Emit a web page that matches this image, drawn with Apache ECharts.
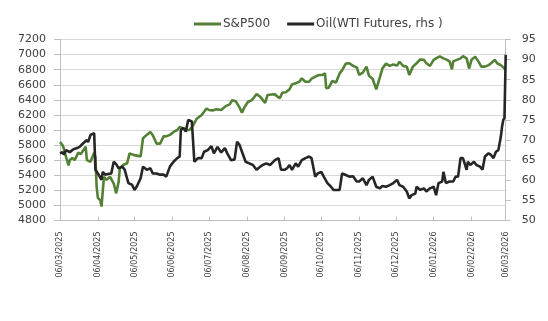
<!DOCTYPE html>
<html>
<head>
<meta charset="utf-8">
<script src="https://cdn.jsdelivr.net/npm/echarts@6/dist/echarts.min.js"></script>
<style>
html,body{margin:0;padding:0;background:#fff;}
#chart{width:548px;height:321px;}
</style>
</head>
<body>
<div id="chart"></div>
<script>
// ---------- data ----------
var xTickLabels = ['06/03/2025','06/04/2025','06/05/2025','06/06/2025','06/07/2025','06/08/2025','06/09/2025','06/10/2025','06/11/2025','06/12/2025','06/01/2026','06/02/2026','06/03/2026'];

var spDates = ['2025-03-06','2025-03-08','2025-03-09','2025-03-11','2025-03-13','2025-03-14','2025-03-16','2025-03-18','2025-03-21','2025-03-23','2025-03-27','2025-03-28','2025-03-31','2025-04-01','2025-04-03','2025-04-04','2025-04-05','2025-04-06','2025-04-08','2025-04-09','2025-04-11','2025-04-13','2025-04-16','2025-04-19','2025-04-21','2025-04-23','2025-04-24','2025-04-27','2025-04-30','2025-05-02','2025-05-05','2025-05-08','2025-05-11','2025-05-13','2025-05-16','2025-05-19','2025-05-21','2025-05-24','2025-05-27','2025-05-30','2025-06-01','2025-06-04','2025-06-07','2025-06-10','2025-06-12','2025-06-15','2025-06-18','2025-06-20','2025-06-23','2025-06-26','2025-06-30','2025-07-04','2025-07-06','2025-07-09','2025-07-12','2025-07-16','2025-07-20','2025-07-23','2025-07-25','2025-07-28','2025-07-31','2025-08-02','2025-08-04','2025-08-07','2025-08-10','2025-08-14','2025-08-17','2025-08-19','2025-08-21','2025-08-23','2025-08-26','2025-08-29','2025-08-31','2025-09-02','2025-09-04','2025-09-07','2025-09-10','2025-09-12','2025-09-15','2025-09-18','2025-09-20','2025-09-23','2025-09-26','2025-09-28','2025-10-02','2025-10-04','2025-10-07','2025-10-09','2025-10-10','2025-10-12','2025-10-15','2025-10-18','2025-10-21','2025-10-23','2025-10-26','2025-10-29','2025-11-01','2025-11-04','2025-11-06','2025-11-09','2025-11-12','2025-11-14','2025-11-17','2025-11-20','2025-11-23','2025-11-25','2025-11-28','2025-12-01','2025-12-04','2025-12-07','2025-12-09','2025-12-12','2025-12-15','2025-12-17','2025-12-20','2025-12-23','2025-12-26','2025-12-29','2025-12-31','2026-01-03','2026-01-06','2026-01-08','2026-01-11','2026-01-14','2026-01-17','2026-01-19','2026-01-21','2026-01-22','2026-01-25','2026-01-28','2026-01-30','2026-02-02','2026-02-04','2026-02-06','2026-02-09','2026-02-12','2026-02-14','2026-02-17','2026-02-20','2026-02-22','2026-02-25','2026-02-27','2026-03-02','2026-03-06'];
var spValues = [5840,5800,5760,5640,5530,5600,5630,5600,5700,5680,5780,5600,5580,5620,5700,5640,5250,5100,5070,4985,5380,5340,5380,5290,5160,5310,5490,5540,5560,5690,5670,5660,5650,5890,5935,5975,5930,5820,5820,5920,5915,5935,5975,6000,6040,6020,6000,6000,6060,6150,6200,6285,6265,6260,6275,6265,6320,6340,6395,6380,6300,6230,6300,6375,6395,6475,6440,6400,6360,6465,6470,6475,6445,6420,6495,6500,6540,6605,6620,6640,6685,6640,6640,6680,6715,6730,6730,6750,6555,6560,6650,6630,6750,6790,6880,6885,6850,6830,6730,6760,6840,6720,6680,6540,6700,6815,6880,6850,6870,6855,6905,6850,6840,6730,6840,6885,6935,6930,6885,6850,6930,6950,6975,6950,6930,6910,6805,6910,6930,6950,6980,6950,6815,6930,6970,6900,6840,6840,6860,6885,6930,6885,6860,6800];

var oilDates = ['2025-03-06','2025-03-08','2025-03-09','2025-03-11','2025-03-14','2025-03-17','2025-03-20','2025-03-22','2025-03-25','2025-03-28','2025-03-29','2025-03-31','2025-04-03','2025-04-04','2025-04-06','2025-04-09','2025-04-10','2025-04-12','2025-04-15','2025-04-17','2025-04-19','2025-04-21','2025-04-23','2025-04-26','2025-04-28','2025-05-01','2025-05-04','2025-05-06','2025-05-08','2025-05-11','2025-05-13','2025-05-16','2025-05-19','2025-05-21','2025-05-24','2025-05-27','2025-05-30','2025-06-01','2025-06-04','2025-06-07','2025-06-10','2025-06-12','2025-06-13','2025-06-15','2025-06-17','2025-06-19','2025-06-20','2025-06-22','2025-06-24','2025-06-27','2025-06-30','2025-07-02','2025-07-05','2025-07-08','2025-07-10','2025-07-13','2025-07-16','2025-07-19','2025-07-21','2025-07-24','2025-07-27','2025-07-29','2025-07-31','2025-08-03','2025-08-05','2025-08-08','2025-08-11','2025-08-14','2025-08-17','2025-08-19','2025-08-22','2025-08-25','2025-08-27','2025-08-29','2025-09-01','2025-09-03','2025-09-06','2025-09-08','2025-09-10','2025-09-12','2025-09-15','2025-09-17','2025-09-18','2025-09-20','2025-09-23','2025-09-26','2025-09-28','2025-10-01','2025-10-03','2025-10-06','2025-10-08','2025-10-11','2025-10-14','2025-10-16','2025-10-21','2025-10-23','2025-10-26','2025-10-29','2025-11-01','2025-11-04','2025-11-06','2025-11-09','2025-11-12','2025-11-14','2025-11-17','2025-11-20','2025-11-23','2025-11-25','2025-11-28','2025-12-01','2025-12-04','2025-12-07','2025-12-09','2025-12-12','2025-12-15','2025-12-17','2025-12-19','2025-12-22','2025-12-23','2025-12-26','2025-12-29','2025-12-31','2026-01-03','2026-01-06','2026-01-08','2026-01-10','2026-01-13','2026-01-14','2026-01-16','2026-01-19','2026-01-22','2026-01-24','2026-01-26','2026-01-28','2026-01-30','2026-02-02','2026-02-03','2026-02-05','2026-02-08','2026-02-10','2026-02-13','2026-02-15','2026-02-17','2026-02-20','2026-02-22','2026-02-24','2026-02-26','2026-02-28','2026-03-02','2026-03-03','2026-03-04','2026-03-05','2026-03-06'];
var oilValues = [66.7,67.0,66.4,67.5,67.0,67.7,68.0,68.3,69.2,70.0,69.5,71.3,71.7,62.6,61.7,60.1,62.1,61.4,61.6,61.7,64.6,64.0,63.0,63.4,62.6,59.3,58.9,57.6,58.5,60.5,63.4,62.6,63.0,61.7,61.7,61.4,61.4,60.9,63.4,64.6,65.5,65.9,72.5,73.0,72.1,75.0,75.2,74.6,64.6,65.5,65.5,67.1,67.5,68.5,66.7,68.3,66.9,68.0,66.7,65.0,65.2,69.6,68.8,66.3,64.6,64.2,63.8,62.6,63.4,63.8,64.2,63.8,64.4,65.0,65.5,62.6,62.6,63.0,63.8,62.6,64.2,63.4,63.0,65.0,65.5,65.9,65.5,60.9,61.7,62.1,60.9,59.3,58.4,57.6,57.6,61.7,61.3,60.9,61.0,59.7,59.7,60.5,58.8,60.1,60.9,58.4,58.0,58.6,58.4,58.8,59.3,60.1,58.8,58.4,57.2,55.5,56.3,56.7,58.4,57.6,58.0,57.2,58.0,58.4,56.3,59.3,59.7,62.1,59.3,59.7,59.7,60.9,60.9,65.5,65.5,62.6,64.6,63.8,64.6,63.8,63.4,62.6,65.9,66.7,66.3,65.5,67.1,67.5,70.8,73.3,75.0,75.5,91.2];

var seriesNames = ['S&P500', 'Oil(WTI Futures, rhs )'];

// ---------- helpers ----------
function parseDMY(s){ var p = s.split('/'); return new Date(+p[2], +p[1]-1, +p[0]).getTime(); }
function parseYMD(s){ var p = s.split('-'); return new Date(+p[0], +p[1]-1, +p[2]).getTime(); }
function pad(n){ return n < 10 ? '0' + n : '' + n; }
function fmt(v){ var d = new Date(v); return pad(d.getDate()) + '/' + pad(d.getMonth()+1) + '/' + d.getFullYear(); }
function plain(v){ return String(v); }
function pairs(ds, vs){ return ds.map(function(d, i){ return [parseYMD(d), vs[i]]; }); }

var tickVals = xTickLabels.map(parseDMY);
var FONT = 'DejaVu Sans';
var TXT = '#404040';

var chart = echarts.init(document.getElementById('chart'), null, {renderer: 'canvas'});
chart.setOption({
  animation: false,
  backgroundColor: '#ffffff',
  legend: {
    left: 189, top: 13,
    itemWidth: 27, itemHeight: 3, itemGap: 17,
    icon: 'rect',
    textStyle: {fontFamily: FONT, fontSize: 12, color: TXT, padding: [0, 0, 0, -3]},
    data: seriesNames
  },
  grid: {left: 60, right: 42.3, top: 39.5, bottom: 100.5},
  xAxis: {
    type: 'value',
    min: tickVals[0], max: tickVals[tickVals.length - 1],
    axisLine: {show: true, lineStyle: {color: '#bfbfbf', width: 1}},
    axisTick: {show: true, inside: true, length: 4, customValues: tickVals, lineStyle: {color: '#bfbfbf'}},
    axisLabel: {customValues: tickVals, rotate: 90, margin: 11, formatter: fmt,
      fontFamily: FONT, fontSize: 8, color: TXT},
    splitLine: {show: false}
  },
  yAxis: [{
    type: 'value', min: 4800, max: 7200, interval: 200,
    axisLine: {show: true, lineStyle: {color: '#bfbfbf'}},
    axisTick: {show: true, length: 6, lineStyle: {color: '#bfbfbf'}},
    axisLabel: {margin: 14, fontFamily: FONT, fontSize: 11, color: TXT, formatter: plain},
    splitLine: {show: true, lineStyle: {color: '#d9d9d9', width: 1}}
  }, {
    type: 'value', min: 50, max: 95, interval: 5, position: 'right',
    axisLine: {show: true, lineStyle: {color: '#bfbfbf'}},
    axisTick: {show: true, length: 5, lineStyle: {color: '#bfbfbf'}},
    axisLabel: {margin: 16, fontFamily: FONT, fontSize: 11, color: TXT, formatter: plain},
    splitLine: {show: false}
  }],
  series: [{
    name: seriesNames[0], type: 'line', yAxisIndex: 0,
    showSymbol: false, symbol: 'none',
    lineStyle: {color: '#538135', width: 2.6},
    itemStyle: {color: '#538135'},
    data: pairs(spDates, spValues)
  }, {
    name: seriesNames[1], type: 'line', yAxisIndex: 1,
    showSymbol: false, symbol: 'none',
    lineStyle: {color: '#262626', width: 2.6},
    itemStyle: {color: '#262626'},
    data: pairs(oilDates, oilValues)
  }]
});
</script>
</body>
</html>
